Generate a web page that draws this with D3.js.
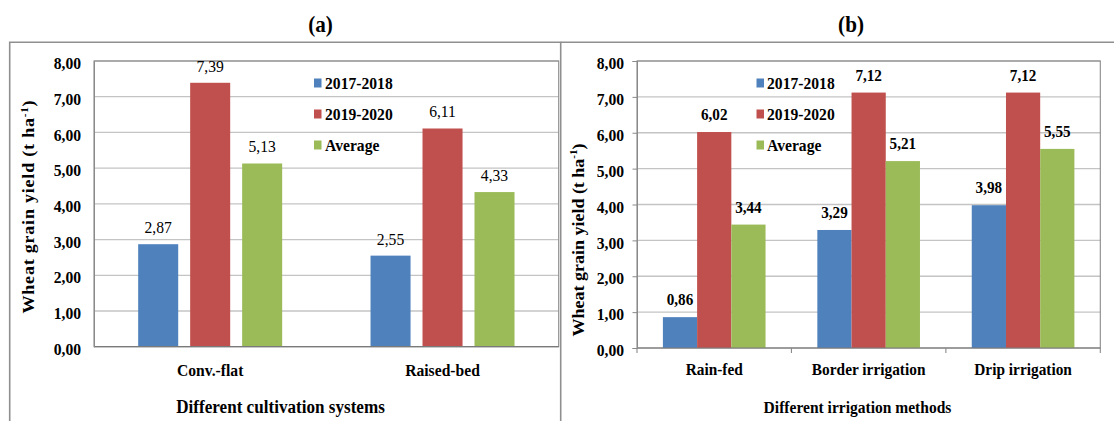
<!DOCTYPE html>
<html><head><meta charset="utf-8">
<script src="https://cdn.jsdelivr.net/npm/d3@7"></script>
<style>body{margin:0;background:#fff}svg{display:block}</style>
</head><body>
<svg id="c" width="1114" height="421"></svg>
<script>
// ---------- data ----------
const seriesNames = ["2017-2018", "2019-2020", "Average"];
const seriesColors = ["#4F81BD", "#C0504D", "#9BBB59"];
const yTicks = [0, 1, 2, 3, 4, 5, 6, 7, 8];

const categoriesA = ["Conv.-flat", "Raised-bed"];
const a2017 = [2.87, 2.55];
const a2019 = [7.39, 6.11];
const aAvg  = [5.13, 4.33];

const categoriesB = ["Rain-fed", "Border irrigation", "Drip irrigation"];
const b2017 = [0.86, 3.29, 3.98];
const b2019 = [6.02, 7.12, 7.12];
const bAvg  = [3.44, 5.21, 5.55];

// ---------- drawing ----------
const SX = 0.92; // horizontal squash of the reference text
const svg = d3.select("#c");
const FONT = "'Liberation Serif','Times New Roman',serif";
const fmt = v => d3.format(".2f")(v).replace(".", ",");

function txt(g, x, y, s, size, weight, anchor) {
  return g.append("text")
    .attr("transform", `translate(${x},${y}) scale(${SX},1)`)
    .attr("font-family", FONT).attr("font-size", size)
    .attr("font-weight", weight).attr("text-anchor", anchor || "middle")
    .attr("fill", "#000").text(s);
}

// outer frames
svg.append("path").attr("d", "M9.7,421 V42.3 H560.7 V421").attr("fill", "none")
  .attr("stroke", "#8f8f8f").attr("stroke-width", 1.6);
svg.append("path").attr("d", "M560.7,42.3 H1114").attr("fill", "none")
  .attr("stroke", "#8f8f8f").attr("stroke-width", 1.6);

function panel(c) {
  const g = svg.append("g");
  const vals = [c.s1, c.s2, c.s3];
  const y = d3.scaleLinear().domain([0, 8]).range([c.bottom, c.top]);
  const x0 = d3.scaleBand().domain(c.cats).range([c.left, c.right]).paddingInner(0).paddingOuter(0);
  const x1 = d3.scaleBand().domain(seriesNames).range([0, x0.bandwidth()])
    .paddingInner(c.pIn).paddingOuter(c.pOut);

  // gridlines
  g.append("g").selectAll("line").data(yTicks.slice(1)).join("line")
    .attr("x1", c.left).attr("x2", c.right)
    .attr("y1", d => y(d)).attr("y2", d => y(d))
    .attr("stroke", "#c4c4c4").attr("stroke-width", 1.3);

  // plot border
  g.append("rect").attr("x", c.left).attr("y", c.top)
    .attr("width", c.right - c.left).attr("height", c.bottom - c.top)
    .attr("fill", "none").attr("stroke", "#8a8a8a").attr("stroke-width", 1.1);

  // bars
  seriesNames.forEach((s, si) => {
    g.append("g").selectAll("rect").data(c.cats).join("rect")
      .attr("x", d => x0(d) + x1(s))
      .attr("y", (d, i) => y(vals[si][i]))
      .attr("width", x1.bandwidth())
      .attr("height", (d, i) => c.bottom - y(vals[si][i]))
      .attr("fill", seriesColors[si]);
    c.cats.forEach((d, i) => {
      txt(g, x0(d) + x1(s) + x1.bandwidth() / 2, y(vals[si][i]) - c.lblOff,
        fmt(vals[si][i]), c.lblSize, c.lblWeight);
    });
  });

  // baseline
  g.append("line").attr("x1", c.left).attr("x2", c.right)
    .attr("y1", c.bottom).attr("y2", c.bottom)
    .attr("stroke", "#7a7a7a").attr("stroke-width", 1.2);

  // y axis
  const ya = g.append("g").attr("transform", `translate(${c.left},0)`)
    .call(d3.axisLeft(y).tickValues(yTicks).tickSize(c.yTick).tickFormat(fmt));
  ya.select(".domain").attr("stroke", "#8a8a8a");
  ya.selectAll(".tick line").attr("stroke", "#8a8a8a");
  ya.selectAll(".tick text").attr("x", -13 / SX).attr("dy", "0.45em")
    .attr("transform", `scale(${SX},1)`)
    .attr("font-family", FONT).attr("font-size", 17).attr("font-weight", "bold").attr("fill", "#000");

  // x axis (category labels)
  const xa = g.append("g").attr("transform", `translate(0,${c.bottom})`)
    .call(d3.axisBottom(x0).tickSize(0));
  xa.select(".domain").remove();
  xa.selectAll(".tick text").attr("y", null).attr("dy", null)
    .attr("transform", `translate(0,${c.catY}) scale(${SX},1)`)
    .attr("font-family", FONT).attr("font-size", c.catSize).attr("font-weight", "bold").attr("fill", "#000");
  if (c.xTicks) {
    const bounds = c.cats.map(d => x0(d)).concat([x0.range()[1]]);
    g.append("g").selectAll("line").data(bounds).join("line")
      .attr("x1", d => d).attr("x2", d => d)
      .attr("y1", c.bottom).attr("y2", c.bottom + 5)
      .attr("stroke", "#8a8a8a").attr("stroke-width", 1.1);
  }

  // axis titles
  txt(g, c.xTitleX, 413, c.xTitle, c.xTitleSize, "bold");
  const yt = g.append("text")
    .attr("transform", `translate(${c.yTitleX},${c.yTitleY}) rotate(-90) scale(1,${SX})`)
    .attr("font-family", FONT).attr("font-size", 18).attr("font-weight", "bold")
    .attr("text-anchor", "middle").attr("fill", "#000");
  if (c.yTitleLen) yt.attr("textLength", c.yTitleLen).attr("lengthAdjust", "spacing");
  yt.append("tspan").text("Wheat grain yield (t ha");
  yt.append("tspan").attr("font-size", 11).attr("dy", -7).text("-1");
  yt.append("tspan").attr("dy", 7).text(")");

  // legend
  seriesNames.forEach((s, i) => {
    const cy = 83 + i * 31;
    g.append("rect").attr("x", c.legX).attr("y", cy - 4.5).attr("width", 7.5).attr("height", 9)
      .attr("fill", seriesColors[i]);
    txt(g, c.legTX, cy + 6, s, 17, "bold", "start");
  });

  // panel title
  txt(g, c.titleX, 32, c.title, 23, "bold");
}

panel({
  cats: categoriesA, s1: a2017, s2: a2019, s3: aAvg,
  left: 94, right: 558.7, top: 61, bottom: 346.7,
  pIn: 0.23, pOut: 0.85, yTick: 0, xTicks: false,
  lblOff: 11, lblSize: 17, lblWeight: "normal",
  catY: 29.5, catSize: 17,
  xTitle: "Different cultivation systems", xTitleX: 280.5, xTitleSize: 18.6,
  yTitleX: 34, yTitleY: 207, yTitleLen: 213,
  legX: 314, legTX: 325, title: "(a)", titleX: 320.5
});

panel({
  cats: categoriesB, s1: b2017, s2: b2019, s3: bAvg,
  left: 637, right: 1100.3, top: 61, bottom: 348,
  pIn: 0, pOut: 0.757, yTick: 4.5, xTicks: true,
  lblOff: 12, lblSize: 16.5, lblWeight: "bold",
  catY: 27, catSize: 16.7,
  xTitle: "Different irrigation methods", xTitleX: 857.5, xTitleSize: 16.9,
  yTitleX: 583.5, yTitleY: 240, yTitleLen: null,
  legX: 756.5, legTX: 767, title: "(b)", titleX: 851
});
</script>
</body></html>
